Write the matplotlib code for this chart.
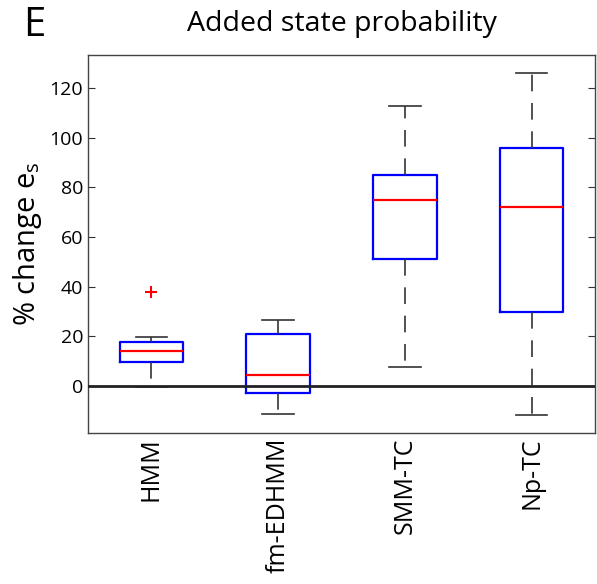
import matplotlib
matplotlib.use('Agg')
import matplotlib.pyplot as plt

plt.rcParams['font.family'] = ['Open Sans', 'DejaVu Sans']

# values (percent change)
labels = ['HMM', 'fm-EDHMM', 'SMM-TC', 'Np-TC']
whislo = [-0.2, -11.4, 7.5, -11.8]
q1 = [9.5, -2.7, 51.0, 29.7]
med = [14.3, 4.6, 74.9, 72.2]
q3 = [17.8, 20.8, 84.9, 95.7]
whishi = [19.6, 26.4, 112.6, 126.2]
fliers = [[37.7], [], [], []]

stats = []
for i in range(len(labels)):
    stats.append(dict(label=labels[i], whislo=whislo[i], q1=q1[i], med=med[i],
                      q3=q3[i], whishi=whishi[i], fliers=fliers[i]))

fig = plt.figure(figsize=(5.97, 5.84), dpi=100)
ax = fig.add_axes([0.1474, 0.2586, 0.8492, 0.6472])

ax.axhline(0, color='#222222', lw=2, zorder=5)

ax.bxp(stats, positions=range(1, 5), widths=0.5, showfliers=True,
       boxprops=dict(color='#0000ff', lw=1.6),
       medianprops=dict(color='#ff0000', lw=1.6),
       whiskerprops=dict(color='#333333', lw=1.2, linestyle=(0, (10, 7))),
       capprops=dict(color='#333333', lw=1.2),
       flierprops=dict(marker='+', markeredgecolor='#ff0000', markersize=8, markeredgewidth=1.5),
       capwidths=0.25)

ax.set_xlim(0.5, 4.5)
ax.set_ylim(-18.9, 133.3)
ax.set_yticks([0, 20, 40, 60, 80, 100, 120])
ax.tick_params(axis='y', direction='in', length=5, right=True, labelsize=14, color='#333333')
ax.tick_params(axis='x', length=0, labelsize=18, labelrotation=90, pad=3)
for s in ax.spines.values():
    s.set_color('#444444')
    s.set_linewidth(1.0)

ax.set_ylabel('% change e$_\\mathregular{s}$', fontsize=21)
ax.yaxis.set_label_coords(-0.087, 0.5)
ax.set_title('Added state probability', fontsize=20.5, pad=17)
fig.text(23 / 597, 1 - 6 / 584, 'E', fontsize=29, va='top', ha='left')

fig.savefig('out.png', dpi=100)
